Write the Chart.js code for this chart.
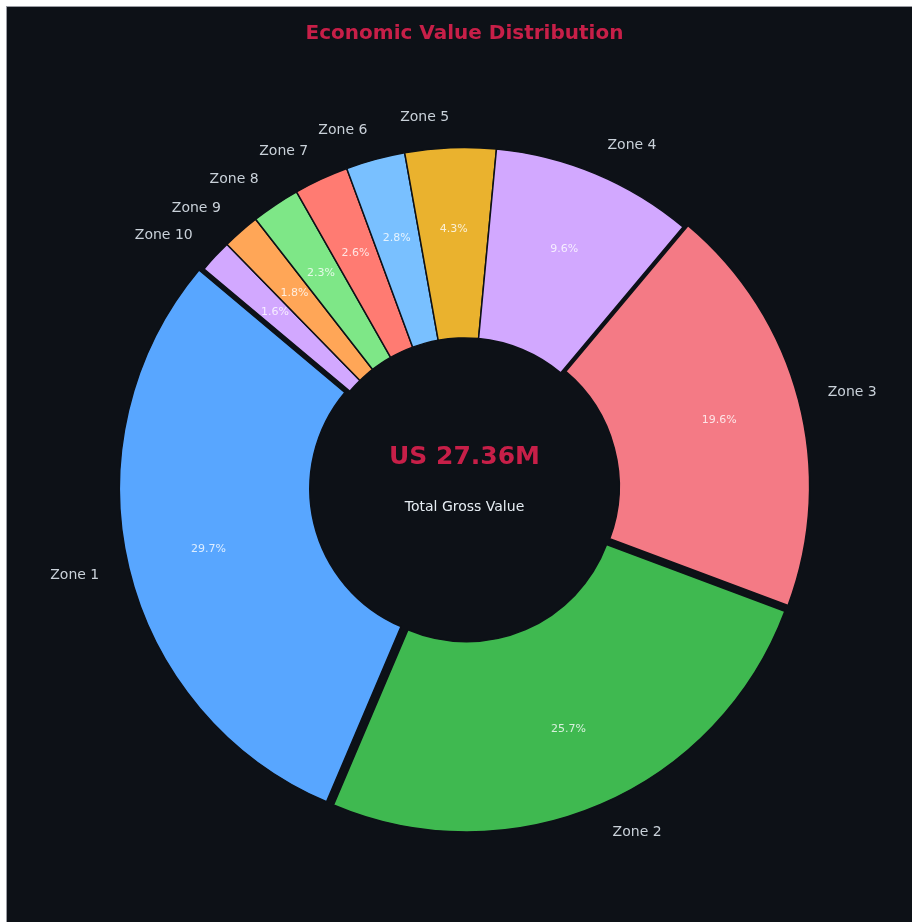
<!DOCTYPE html>
<html>
<head>
<meta charset="utf-8">
<script src="https://cdn.jsdelivr.net/npm/chart.js@4.4.1/dist/chart.umd.min.js"></script>
<style>
  html, body { margin: 0; padding: 0; background: #ffffff; }
  #wrap { position: absolute; left: 6px; top: 6px; width: 906px; height: 916px; background: #0d1117; border-top: 1px solid #9a9ca3; border-left: 1px solid #9a9ca3; box-sizing: border-box; }
  canvas { display: block; }
</style>
</head>
<body>
<div id="wrap"><canvas id="valueChart" width="905" height="915"></canvas></div>
<script>
const zones = ['Zone 1', 'Zone 2', 'Zone 3', 'Zone 4', 'Zone 5', 'Zone 6', 'Zone 7', 'Zone 8', 'Zone 9', 'Zone 10'];
// values in millions (US)
const values = [8.13, 7.03, 5.36, 2.63, 1.18, 0.77, 0.71, 0.63, 0.49, 0.43];
const colors = ['#58a6ff', '#3fb950', '#f47a85', '#d2a8ff', '#eab22e', '#79c0ff', '#ff7b72', '#7ee787', '#ffa657', '#d2a8ff'];
// exploded wedges (chart.js moves the arc by offset / 4)
const explode = [20, 20, 20, 0, 0, 0, 0, 0, 0, 0];

const total = values.reduce((a, b) => a + b, 0);
const bg = '#0d1117';
const crimson = '#c71f48';

// chart.js only goes clockwise, the original runs counter-clockwise -> reverse
const rev = (arr) => arr.slice().reverse();

const sliceLabels = {
  id: 'sliceLabels',
  afterDatasetsDraw(chart) {
    const { ctx } = chart;
    const meta = chart.getDatasetMeta(0);
    const names = rev(zones);
    const vals = rev(values);
    ctx.save();
    meta.data.forEach((arc, i) => {
      const { x, y, startAngle, endAngle, outerRadius } = arc.getProps(['x', 'y', 'startAngle', 'endAngle', 'outerRadius'], true);
      const mid = (startAngle + endAngle) / 2;
      const off = (arc.options.offset || 0) / 4;
      const cx = x + Math.cos(mid) * off;
      const cy = y + Math.sin(mid) * off;
      // percentage
      ctx.font = '11px "DejaVu Sans"';
      ctx.fillStyle = 'rgba(255,255,255,0.8)';
      ctx.textAlign = 'center';
      ctx.textBaseline = 'middle';
      const pct = (vals[i] / total * 100).toFixed(1) + '%';
      ctx.fillText(pct, cx + Math.cos(mid) * outerRadius * 0.76, cy + Math.sin(mid) * outerRadius * 0.76);
      // zone name
      ctx.font = '14px "DejaVu Sans"';
      ctx.fillStyle = '#c9d1d9';
      const lx = cx + Math.cos(mid) * outerRadius * 1.09;
      const ly = cy + Math.sin(mid) * outerRadius * 1.09;
      ctx.textAlign = Math.cos(mid) >= 0 ? 'left' : 'right';
      ctx.fillText(names[i], lx, ly);
    });
    // centre text
    const c = meta.data[0];
    ctx.textAlign = 'center';
    ctx.textBaseline = 'middle';
    ctx.font = 'bold 25px "DejaVu Sans"';
    ctx.fillStyle = crimson;
    ctx.fillText('US ' + total.toFixed(2) + 'M', c.x, c.y - 30);
    ctx.font = '14px "DejaVu Sans"';
    ctx.fillStyle = '#e6edf3';
    ctx.fillText('Total Gross Value', c.x, c.y + 20);
    ctx.restore();
  },
};

const valueChart = new Chart(document.getElementById('valueChart').getContext('2d'), {
  type: 'doughnut',
  data: {
    labels: rev(zones),
    datasets: [{
      data: rev(values),
      backgroundColor: rev(colors),
      borderColor: bg,
      borderWidth: 1.5,
      offset: rev(explode),
      hoverOffset: 0,
    }],
  },
  options: {
    responsive: false,
    animation: false,
    events: [],
    radius: 340,
    cutout: '44%',
    rotation: -50,
    layout: {
      padding: { left: 10, right: 0, top: 0, bottom: 0 },
    },
    plugins: {
      legend: { display: false },
      tooltip: { enabled: false },
      title: {
        display: true,
        text: 'Economic Value Distribution',
        color: crimson,
        font: { family: 'DejaVu Sans', size: 20, weight: 'bold' },
        padding: { top: 15, bottom: 7 },
      },
    },
  },
  plugins: [sliceLabels],
});
</script>
</body>
</html>
